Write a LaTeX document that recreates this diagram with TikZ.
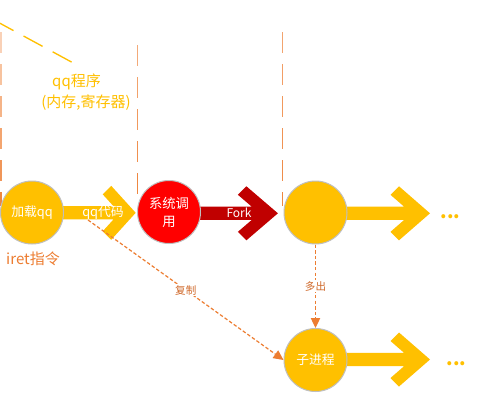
\documentclass[tikz,border=0pt]{standalone}
\usepackage{fontspec}
\setmainfont{Noto Sans CJK SC}
\usetikzlibrary{calc,arrows.meta,backgrounds}
\definecolor{gold}{HTML}{FFC000}
\definecolor{orng}{HTML}{ED7D31}
\definecolor{dred}{HTML}{C00000}
\definecolor{brd}{HTML}{BFBFBF}
\definecolor{lbl}{HTML}{D0692A}
% #1 fill colour, #2 start node, #3 tip coordinate, #4 head length (px)
\newcommand\blockarrow[4]{%
  \fill[#1] ($(#2|-#3)+(0,-6.6)$) -- ($(#3)+({-8.5-0.5593*#4},-6.6)$)
    -- ($(#3)+({-#4-8.5},-18.5)$) -- ($(#3)+({-#4},-27)$) -- (#3)
    -- ($(#3)+({-#4},27)$) -- ($(#3)+({-#4-8.5},18.5)$)
    -- ($(#3)+({-8.5-0.5593*#4},6.6)$) -- ($(#2|-#3)+(0,6.6)$) -- cycle;}
\begin{document}
\begin{tikzpicture}[x=0.75pt,y=-0.75pt,
  circ/.style={circle,draw=brd,line width=0.75pt,minimum size=47.25pt,inner sep=0pt,text=white,align=center},
  wtext/.style={text=white,inner sep=0pt},
  ytext/.style={text=gold,inner sep=0pt,font=\fontsize{11.25}{14}\selectfont},
  dotstext/.style={text=gold,inner sep=0pt,font=\fontsize{14}{14}\selectfont\bfseries},
  dasharrow/.style={orng,line width=0.9pt,dash pattern=on 2.6pt off 1.6pt,-{Triangle[length=7.5pt,width=7pt]}},
  smalllbl/.style={text=lbl,fill=white,inner sep=1pt,font=\fontsize{7.9}{9}\selectfont}]
\useasboundingbox (0,0) rectangle (482,400);

% nodes
\node[circ,fill=gold,font=\fontsize{9.6}{12}\selectfont] (c1) at (32,212.5) {加载qq};
\node[circ,fill=red,font=\fontsize{10}{13.5}\selectfont] (c2) at (169,212) {系统调\\用};
\node[circ,fill=gold] (c3) at (315.5,212.5) {};
\node[circ,fill=gold,font=\fontsize{9.6}{12}\selectfont] (c4) at (315.5,360) {子进程};

\coordinate (t1) at ($(c2.west)+(-1.3,0.8)$);
\coordinate (t2) at ($(c3.west)+(-5.6,0.8)$);
\coordinate (e3) at (430,213.3);
\coordinate (e4) at (430,359.5);
\coordinate (s1) at (88,220);

\node[dotstext] (d3) at (450.5,217) {...};
\node[dotstext] (d4) at (456.5,364) {...};

\node[ytext] (prog) at (76.5,82) {qq程序};
\node[ytext] (mem) at (86,102.5) {(内存,寄存器)};
\node[text=orng,inner sep=0pt,font=\fontsize{11.25}{14}\selectfont] (iret) at (33,258.5) {iret指令};

\begin{pgfonlayer}{background}
  \fill[white] (0,0) rectangle (482,400);
  % vertical dashed guide lines
  \foreach \xx/\ys/\n/\lo in {1/32/5/35, 137.5/45/4/65, 282.5/32/5/70} {
    \foreach \k in {0,...,\n} {
      \pgfmathsetmacro\pc{\lo+(92-\lo)*\k/\n}
      \draw[color=orng!\pc!white,line width=1.1pt] (\xx,{\ys+32*\k}) -- (\xx,{min(\ys+32*\k+21,206)});
    }
  }
  % yellow dashed callout line
  \draw[gold,line width=1pt,dash pattern=on 16.2pt off 8.6pt] (-5.5,20.3) -- (72,62.3);
  % block arrows
  \blockarrow{gold}{c1}{t1}{24.5}
  \blockarrow{dred}{c2}{t2}{31.5}
  \blockarrow{gold}{c3}{e3}{31}
  \blockarrow{gold}{c4}{e4}{31}
\end{pgfonlayer}

\node[wtext,font=\fontsize{9.6}{12}\selectfont] (code) at (103,212.5) {qq代码};
\node[wtext,font=\fontsize{9}{11}\selectfont] (fork) at (239,213) {Fork};

% dashed connectors
\draw[dasharrow] (s1) -- (c4.west) node[smalllbl,pos=0.5] (copy) {复制};
\draw[dasharrow] (c3.south) -- (c4.north) node[smalllbl,pos=0.5] (more) {多出};
\end{tikzpicture}
\end{document}
